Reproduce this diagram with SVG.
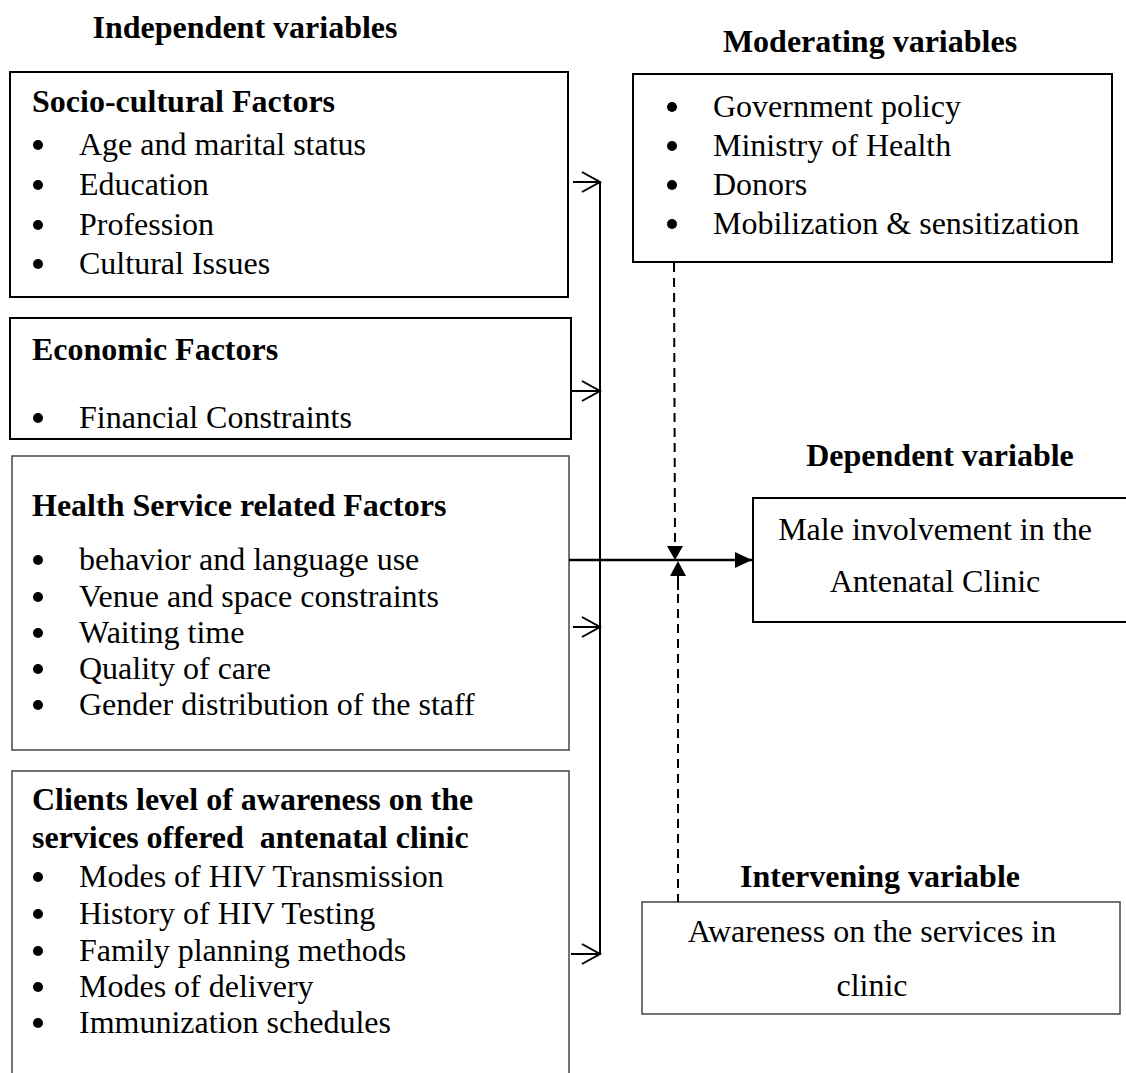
<svg xmlns="http://www.w3.org/2000/svg" width="1126" height="1073" viewBox="0 0 1126 1073">
<style>
text{font-family:"Liberation Serif","Times New Roman",serif;font-size:32px;fill:#000}
.b{font-weight:bold}
.box{fill:#fff;stroke:#000;stroke-width:2}
.thin{fill:#fff;stroke:#444;stroke-width:1.5}
.ln{fill:none;stroke:#000;stroke-width:2}
.dash{fill:none;stroke:#000;stroke-width:2;stroke-dasharray:9,6}
.bul{fill:#000}
</style>
<defs>
<marker id="open" markerWidth="22" markerHeight="22" refX="19" refY="11" orient="auto" markerUnits="userSpaceOnUse">
<path d="M1,1 L19,11 L1,21" fill="none" stroke="#000" stroke-width="2"/>
</marker>
<marker id="fill" markerWidth="18" markerHeight="16" refX="17" refY="8" orient="auto" markerUnits="userSpaceOnUse">
<path d="M0,0 L17,8 L0,16 Z" fill="#000"/>
</marker>
</defs>

<g id="headings">
<text class="b" x="245" y="38" text-anchor="middle">Independent variables</text>
<text class="b" x="870" y="52" text-anchor="middle">Moderating variables</text>
<text class="b" x="940" y="466" text-anchor="middle">Dependent variable</text>
<text class="b" x="880" y="887" text-anchor="middle">Intervening variable</text>
</g>

<g id="socio">
<rect class="box" x="10" y="72" width="558" height="225"/>
<text class="b" x="32" y="112">Socio-cultural Factors</text>
<circle class="bul" cx="38" cy="145" r="5"/><text x="79" y="155">Age and marital status</text>
<circle class="bul" cx="38" cy="185" r="5"/><text x="79" y="195">Education</text>
<circle class="bul" cx="38" cy="225" r="5"/><text x="79" y="235">Profession</text>
<circle class="bul" cx="38" cy="264" r="5"/><text x="79" y="274">Cultural Issues</text>
</g>

<g id="economic">
<rect class="box" x="10" y="318" width="561" height="121"/>
<text class="b" x="32" y="360">Economic Factors</text>
<circle class="bul" cx="38" cy="418" r="5"/><text x="79" y="428">Financial Constraints</text>
</g>

<g id="health">
<rect class="thin" x="12" y="456" width="557" height="294"/>
<text class="b" x="32" y="516">Health Service related Factors</text>
<circle class="bul" cx="38" cy="560" r="5"/><text x="79" y="570">behavior and language use</text>
<circle class="bul" cx="38" cy="597" r="5"/><text x="79" y="607">Venue and space constraints</text>
<circle class="bul" cx="38" cy="633" r="5"/><text x="79" y="643">Waiting time</text>
<circle class="bul" cx="38" cy="669" r="5"/><text x="79" y="679">Quality of care</text>
<circle class="bul" cx="38" cy="705" r="5"/><text x="79" y="715">Gender distribution of the staff</text>
</g>

<g id="clients">
<rect class="thin" x="12" y="771" width="557" height="310"/>
<text class="b" x="32" y="810">Clients level of awareness on the</text>
<text class="b" x="32" y="848" xml:space="preserve">services offered  antenatal clinic</text>
<circle class="bul" cx="38" cy="877" r="5"/><text x="79" y="887">Modes of HIV Transmission</text>
<circle class="bul" cx="38" cy="914" r="5"/><text x="79" y="924">History of HIV Testing</text>
<circle class="bul" cx="38" cy="951" r="5"/><text x="79" y="961">Family planning methods</text>
<circle class="bul" cx="38" cy="987" r="5"/><text x="79" y="997">Modes of delivery</text>
<circle class="bul" cx="38" cy="1023" r="5"/><text x="79" y="1033">Immunization schedules</text>
</g>

<g id="moderating">
<rect class="box" x="633" y="74" width="479" height="188"/>
<circle class="bul" cx="672" cy="107" r="5"/><text x="713" y="117">Government policy</text>
<circle class="bul" cx="672" cy="146" r="5"/><text x="713" y="156">Ministry of Health</text>
<circle class="bul" cx="672" cy="185" r="5"/><text x="713" y="195">Donors</text>
<circle class="bul" cx="672" cy="224" r="5"/><text x="713" y="234">Mobilization &amp; sensitization</text>
</g>

<g id="dependent">
<rect class="box" x="753" y="498" width="383" height="124"/>
<text x="935" y="540" text-anchor="middle">Male involvement in the</text>
<text x="935" y="592" text-anchor="middle">Antenatal Clinic</text>
</g>

<g id="intervening">
<rect class="thin" x="642" y="902" width="478" height="112"/>
<text x="872" y="942" text-anchor="middle">Awareness on the services in</text>
<text x="872" y="996" text-anchor="middle">clinic</text>
</g>

<g id="connectors">
<line class="ln" x1="600" y1="182" x2="600" y2="955"/>
<line class="ln" x1="573" y1="182" x2="600" y2="182" marker-end="url(#open)"/>
<line class="ln" x1="572" y1="391" x2="600" y2="391" marker-end="url(#open)"/>
<line class="ln" x1="573" y1="627" x2="600" y2="627" marker-end="url(#open)"/>
<line class="ln" x1="571" y1="954" x2="600" y2="954" marker-end="url(#open)"/>
<line x1="569" y1="560" x2="752" y2="560" stroke="#000" stroke-width="2.5" marker-end="url(#fill)"/>
<line class="dash" x1="674" y1="263" x2="675" y2="547"/>
<path d="M667,546 L683,546 L675,560 Z" fill="#000"/>
<path d="M670,576 L686,576 L678,561 Z" fill="#000"/>
<line class="ln" x1="678" y1="576" x2="678" y2="590" stroke-width="2.5"/>
<line class="dash" x1="678" y1="594" x2="678" y2="902"/>
</g>
</svg>
